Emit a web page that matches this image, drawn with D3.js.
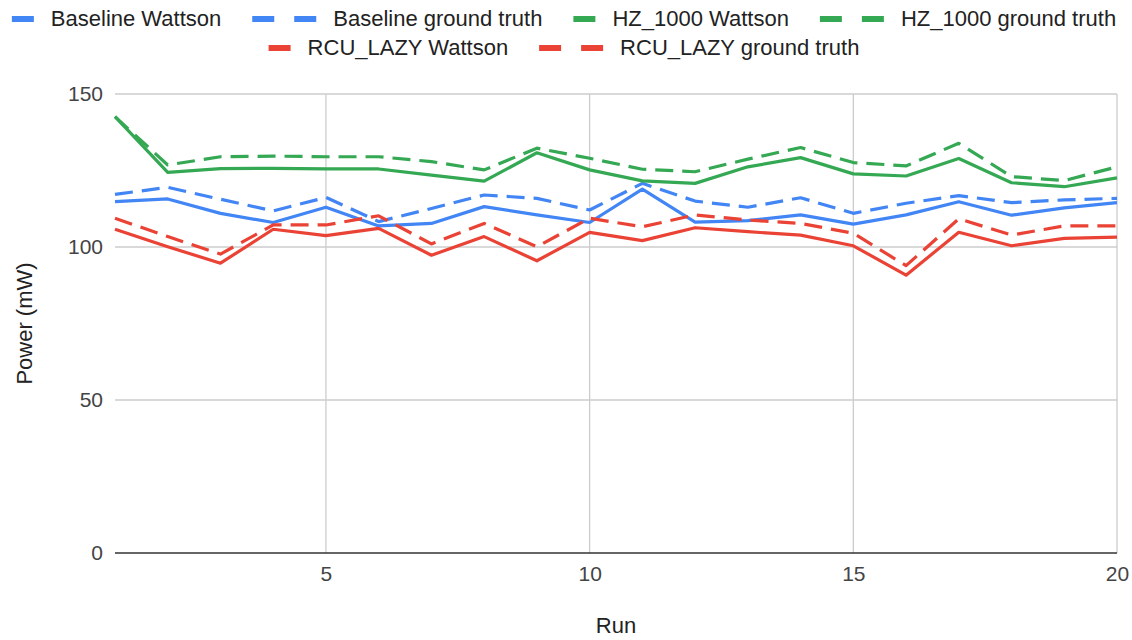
<!DOCTYPE html>
<html>
<head>
<meta charset="utf-8">
<script src="https://cdn.jsdelivr.net/npm/d3@7"></script>
<style>
  html, body { margin: 0; padding: 0; background: #fff; }
  svg { display: block; font-family: "Liberation Sans", Arial, sans-serif; }
</style>
</head>
<body>
<div id="chart"></div>
<script>
const runs = [1, 2, 3, 4, 5, 6, 7, 8, 9, 10, 11, 12, 13, 14, 15, 16, 17, 18, 19, 20];
const baselineWattson = [114.8, 115.7, 111, 108, 113, 106.9, 107.7, 113.2, 110.5, 108, 118.9, 108.1, 108.6, 110.5, 107.5, 110.5, 114.8, 110.4, 112.8, 114.5];
const baselineTruth = [117.2, 119.5, 115.6, 111.8, 116.2, 108.3, 112.6, 117, 115.9, 112.1, 120.8, 115, 113, 116.1, 111, 114.3, 116.8, 114.5, 115.4, 115.9];
const hzWattson = [142.6, 124.4, 125.6, 125.7, 125.5, 125.5, 123.5, 121.5, 130.8, 125.2, 121.6, 120.8, 126.2, 129.2, 123.9, 123.2, 128.9, 121, 119.7, 122.6];
const hzTruth = [142.6, 126.8, 129.5, 129.7, 129.5, 129.5, 127.9, 125.2, 132.3, 129, 125.4, 124.6, 128.7, 132.5, 127.6, 126.5, 133.9, 123, 121.7, 126.2];
const rcuWattson = [105.8, 100.1, 94.7, 105.8, 103.7, 106.1, 97.3, 103.4, 95.5, 104.8, 102.1, 106.3, 105, 103.9, 100.4, 90.8, 104.8, 100.4, 102.8, 103.2];
const rcuTruth = [109.4, 103.4, 97.7, 107.2, 107.2, 110.2, 101, 107.7, 100.1, 109.4, 106.6, 110.5, 108.8, 107.7, 104.5, 93.9, 109.2, 103.9, 106.9, 106.9];
const xTicks = [5, 10, 15, 20];
const yTicks = [0, 50, 100, 150];

const seriesNames = ["Baseline Wattson", "Baseline ground truth", "HZ_1000 Wattson", "HZ_1000 ground truth", "RCU_LAZY Wattson", "RCU_LAZY ground truth"];
const seriesValues = [baselineWattson, baselineTruth, hzWattson, hzTruth, rcuWattson, rcuTruth];
const seriesColors = ["#4285f4", "#4285f4", "#34a853", "#34a853", "#ea4335", "#ea4335"];
const seriesDashed = [false, true, false, true, false, true];

const W = 1132, H = 640;
const margin = { top: 94, right: 15, bottom: 87, left: 115 };

const svg = d3.select("#chart").append("svg")
  .attr("width", W)
  .attr("height", H);

const x = d3.scaleLinear().domain([1, 20]).range([margin.left, W - margin.right]);
const y = d3.scaleLinear().domain([0, 150]).range([H - margin.bottom, margin.top]);

// gridlines
svg.append("g")
  .selectAll("line")
  .data(yTicks.filter((d) => d > 0))
  .join("line")
  .attr("x1", margin.left)
  .attr("x2", W - margin.right)
  .attr("y1", (d) => y(d))
  .attr("y2", (d) => y(d))
  .attr("stroke", "#cccccc")
  .attr("stroke-width", 1.3);

svg.append("g")
  .selectAll("line")
  .data(xTicks)
  .join("line")
  .attr("x1", (d) => x(d))
  .attr("x2", (d) => x(d))
  .attr("y1", margin.top)
  .attr("y2", H - margin.bottom)
  .attr("stroke", "#cccccc")
  .attr("stroke-width", 1.3);

// y axis labels
const yAxis = svg.append("g")
  .attr("transform", `translate(${margin.left},0)`)
  .call(d3.axisLeft(y).tickValues(yTicks).tickSize(0).tickPadding(12));
yAxis.select(".domain").remove();
yAxis.selectAll("text")
  .attr("font-size", 21)
  .attr("font-family", "Liberation Sans, Arial, sans-serif")
  .attr("fill", "#444");

// x axis labels
const xAxis = svg.append("g")
  .attr("transform", `translate(0,${H - margin.bottom})`)
  .call(d3.axisBottom(x).tickValues(xTicks).tickSize(0).tickPadding(13));
xAxis.select(".domain").remove();
xAxis.selectAll("text")
  .attr("font-size", 21)
  .attr("font-family", "Liberation Sans, Arial, sans-serif")
  .attr("fill", "#444");

// baseline
svg.append("line")
  .attr("x1", margin.left)
  .attr("x2", W - margin.right)
  .attr("y1", y(0))
  .attr("y2", y(0))
  .attr("stroke", "#333")
  .attr("stroke-width", 1.6);

// series lines
const line = d3.line()
  .x((d, i) => x(runs[i]))
  .y((d) => y(d));

svg.append("g")
  .selectAll("path")
  .data(seriesValues)
  .join("path")
  .attr("d", (d) => line(d))
  .attr("fill", "none")
  .attr("stroke", (d, i) => seriesColors[i])
  .attr("stroke-width", 3.2)
  .attr("stroke-linejoin", "round")
  .attr("stroke-dasharray", (d, i) => (seriesDashed[i] ? "18,9" : null));

// axis titles
svg.append("text")
  .attr("x", (margin.left + W - margin.right) / 2)
  .attr("y", 633)
  .attr("text-anchor", "middle")
  .attr("font-size", 22)
  .attr("fill", "#222")
  .text("Run");

svg.append("text")
  .attr("transform", `translate(32,${(y(0) + y(150)) / 2}) rotate(-90)`)
  .attr("text-anchor", "middle")
  .attr("font-size", 22)
  .attr("fill", "#222")
  .text("Power (mW)");

// legend, two centred rows
const legendRows = [[0, 1, 2, 3], [4, 5]];
const rowBaselines = [26, 55];
const legendCenter = 564;

legendRows.forEach((row, r) => {
  const g = svg.append("g");
  let cx = 0;
  row.forEach((si, k) => {
    if (k > 0) cx += 31;
    const item = g.append("g").attr("transform", `translate(${cx},0)`);
    const markerW = seriesDashed[si] ? 64 : 22;
    item.append("rect").attr("x", 0).attr("y", rowBaselines[r] - 10).attr("width", 22).attr("height", 6).attr("fill", seriesColors[si]);
    if (seriesDashed[si]) {
      item.append("rect").attr("x", 42).attr("y", rowBaselines[r] - 10).attr("width", 22).attr("height", 6).attr("fill", seriesColors[si]);
    }
    const t = item.append("text")
      .attr("x", markerW + 17)
      .attr("y", rowBaselines[r])
      .attr("font-size", 22)
      .attr("fill", "#222")
      .text(seriesNames[si]);
    cx += markerW + 17 + t.node().getComputedTextLength();
  });
  g.attr("transform", `translate(${legendCenter - cx / 2},0)`);
});
</script>
</body>
</html>
